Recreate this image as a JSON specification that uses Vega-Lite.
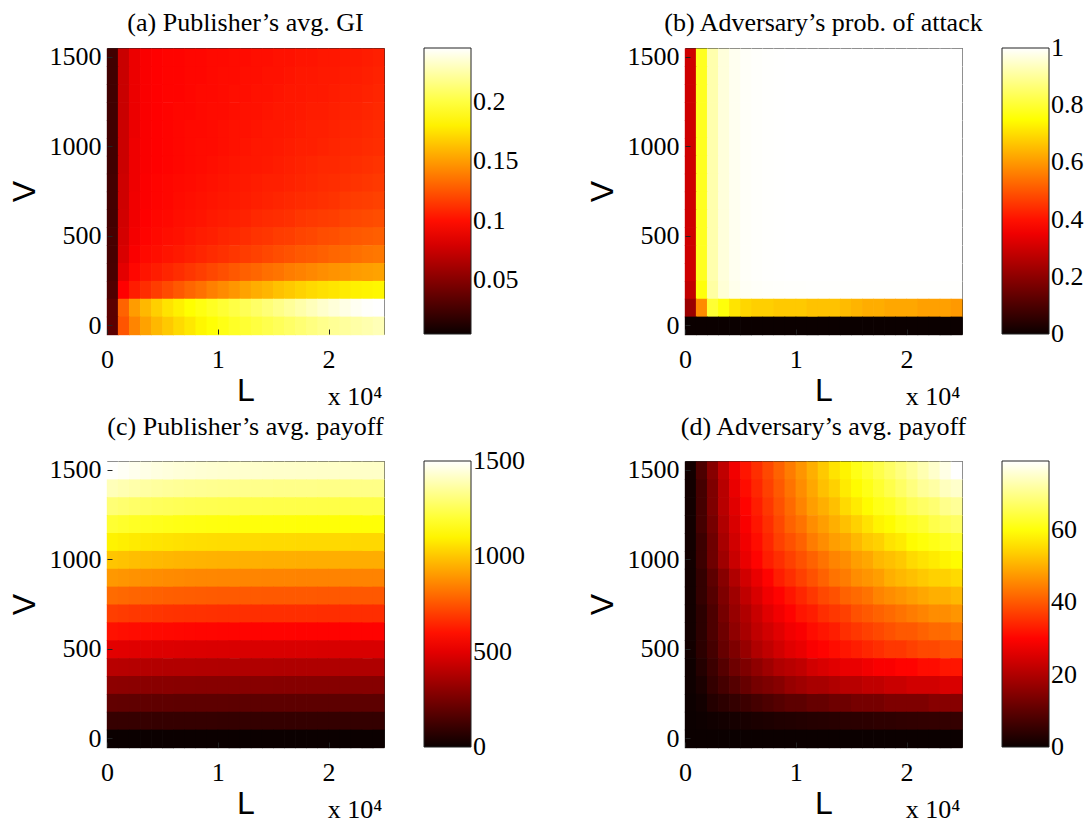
{
"$schema": "https://vega.github.io/schema/vega-lite/v6.json",
"background": "white",
"padding": {"left": 7, "top": 9, "right": 5, "bottom": 0},
"config": {
  "view": {"stroke": "#222222", "strokeWidth": 1},
  "font": "Liberation Serif",
  "axis": {"labelFont": "Liberation Serif", "labelFontSize": 26, "labelColor": "black", "titleFont": "Liberation Sans", "titleFontSize": 32, "titleFontWeight": "normal", "titleColor": "black", "domain": false, "grid": false, "ticks": true, "tickSize": -5, "tickColor": "#222222", "labelOverlap": false, "labelFlush": false},
  "axisY": {"titlePadding": 8, "labelPadding": 11},
  "axisX": {"titlePadding": 3, "labelPadding": 17},
  "title": {"font": "Liberation Serif", "fontSize": 26, "fontWeight": "normal", "color": "black", "baseline": "alphabetic", "offset": 17, "anchor": "middle", "frame": "group"},
  "legend": {"gradientLength": 286, "gradientThickness": 47, "gradientStrokeColor": "#222222", "gradientStrokeWidth": 1, "labelFont": "Liberation Serif", "labelFontSize": 26, "labelColor": "black", "labelOffset": 9, "offset": 40, "padding": 0, "labelOverlap": false, "direction": "vertical", "orient": "right"}
},
"datasets": {"g": [
{"L":500,"V":1500,"a":0.025,"b":0.3,"c":1497,"d":1},
{"L":1500,"V":1500,"a":0.075,"b":0.78,"c":1485,"d":8},
{"L":2500,"V":1500,"a":0.088,"b":0.92,"c":1473,"d":15},
{"L":3500,"V":1500,"a":0.093,"b":0.965,"c":1463,"d":22},
{"L":4500,"V":1500,"a":0.095,"b":0.985,"c":1455,"d":28},
{"L":5500,"V":1500,"a":0.096,"b":0.993,"c":1449,"d":32},
{"L":6500,"V":1500,"a":0.096,"b":0.996,"c":1443,"d":35},
{"L":7500,"V":1500,"a":0.097,"b":0.998,"c":1439,"d":38},
{"L":8500,"V":1500,"a":0.097,"b":0.999,"c":1436,"d":41},
{"L":9500,"V":1500,"a":0.098,"b":1,"c":1433,"d":44},
{"L":10500,"V":1500,"a":0.098,"b":1,"c":1430,"d":47},
{"L":11500,"V":1500,"a":0.099,"b":1,"c":1428,"d":50},
{"L":12500,"V":1500,"a":0.099,"b":1,"c":1427,"d":53},
{"L":13500,"V":1500,"a":0.1,"b":1,"c":1425,"d":56},
{"L":14500,"V":1500,"a":0.1,"b":1,"c":1424,"d":58},
{"L":15500,"V":1500,"a":0.101,"b":1,"c":1422,"d":61},
{"L":16500,"V":1500,"a":0.101,"b":1,"c":1422,"d":63},
{"L":17500,"V":1500,"a":0.102,"b":1,"c":1421,"d":65},
{"L":18500,"V":1500,"a":0.102,"b":1,"c":1421,"d":67},
{"L":19500,"V":1500,"a":0.103,"b":1,"c":1419,"d":69},
{"L":20500,"V":1500,"a":0.103,"b":1,"c":1419,"d":71},
{"L":21500,"V":1500,"a":0.104,"b":1,"c":1419,"d":73},
{"L":22500,"V":1500,"a":0.104,"b":1,"c":1418,"d":75},
{"L":23500,"V":1500,"a":0.105,"b":1,"c":1418,"d":77},
{"L":24500,"V":1500,"a":0.106,"b":1,"c":1418,"d":79},
{"L":500,"V":1400,"a":0.025,"b":0.3,"c":1397,"d":1},
{"L":1500,"V":1400,"a":0.075,"b":0.78,"c":1386,"d":7},
{"L":2500,"V":1400,"a":0.088,"b":0.92,"c":1375,"d":14},
{"L":3500,"V":1400,"a":0.093,"b":0.965,"c":1365,"d":21},
{"L":4500,"V":1400,"a":0.095,"b":0.985,"c":1358,"d":27},
{"L":5500,"V":1400,"a":0.096,"b":0.993,"c":1352,"d":31},
{"L":6500,"V":1400,"a":0.096,"b":0.996,"c":1347,"d":34},
{"L":7500,"V":1400,"a":0.097,"b":0.998,"c":1343,"d":37},
{"L":8500,"V":1400,"a":0.097,"b":0.999,"c":1340,"d":40},
{"L":9500,"V":1400,"a":0.098,"b":1,"c":1337,"d":43},
{"L":10500,"V":1400,"a":0.099,"b":1,"c":1334,"d":46},
{"L":11500,"V":1400,"a":0.099,"b":1,"c":1333,"d":49},
{"L":12500,"V":1400,"a":0.1,"b":1,"c":1331,"d":52},
{"L":13500,"V":1400,"a":0.1,"b":1,"c":1330,"d":54},
{"L":14500,"V":1400,"a":0.101,"b":1,"c":1329,"d":57},
{"L":15500,"V":1400,"a":0.101,"b":1,"c":1327,"d":59},
{"L":16500,"V":1400,"a":0.102,"b":1,"c":1327,"d":61},
{"L":17500,"V":1400,"a":0.103,"b":1,"c":1326,"d":63},
{"L":18500,"V":1400,"a":0.103,"b":1,"c":1326,"d":65},
{"L":19500,"V":1400,"a":0.104,"b":1,"c":1324,"d":67},
{"L":20500,"V":1400,"a":0.104,"b":1,"c":1324,"d":69},
{"L":21500,"V":1400,"a":0.105,"b":1,"c":1324,"d":71},
{"L":22500,"V":1400,"a":0.105,"b":1,"c":1323,"d":72},
{"L":23500,"V":1400,"a":0.106,"b":1,"c":1323,"d":74},
{"L":24500,"V":1400,"a":0.107,"b":1,"c":1323,"d":75},
{"L":500,"V":1300,"a":0.025,"b":0.3,"c":1297,"d":1},
{"L":1500,"V":1300,"a":0.075,"b":0.78,"c":1287,"d":7},
{"L":2500,"V":1300,"a":0.088,"b":0.92,"c":1277,"d":14},
{"L":3500,"V":1300,"a":0.093,"b":0.965,"c":1268,"d":21},
{"L":4500,"V":1300,"a":0.095,"b":0.985,"c":1261,"d":26},
{"L":5500,"V":1300,"a":0.096,"b":0.993,"c":1256,"d":30},
{"L":6500,"V":1300,"a":0.096,"b":0.996,"c":1251,"d":33},
{"L":7500,"V":1300,"a":0.097,"b":0.998,"c":1247,"d":36},
{"L":8500,"V":1300,"a":0.098,"b":0.999,"c":1244,"d":39},
{"L":9500,"V":1300,"a":0.098,"b":1,"c":1242,"d":42},
{"L":10500,"V":1300,"a":0.099,"b":1,"c":1239,"d":45},
{"L":11500,"V":1300,"a":0.1,"b":1,"c":1238,"d":48},
{"L":12500,"V":1300,"a":0.1,"b":1,"c":1236,"d":50},
{"L":13500,"V":1300,"a":0.101,"b":1,"c":1235,"d":52},
{"L":14500,"V":1300,"a":0.101,"b":1,"c":1234,"d":55},
{"L":15500,"V":1300,"a":0.102,"b":1,"c":1232,"d":57},
{"L":16500,"V":1300,"a":0.103,"b":1,"c":1232,"d":59},
{"L":17500,"V":1300,"a":0.103,"b":1,"c":1231,"d":61},
{"L":18500,"V":1300,"a":0.104,"b":1,"c":1231,"d":62},
{"L":19500,"V":1300,"a":0.104,"b":1,"c":1230,"d":64},
{"L":20500,"V":1300,"a":0.105,"b":1,"c":1230,"d":66},
{"L":21500,"V":1300,"a":0.106,"b":1,"c":1230,"d":67},
{"L":22500,"V":1300,"a":0.106,"b":1,"c":1229,"d":68},
{"L":23500,"V":1300,"a":0.107,"b":1,"c":1229,"d":70},
{"L":24500,"V":1300,"a":0.108,"b":1,"c":1229,"d":71},
{"L":500,"V":1200,"a":0.025,"b":0.3,"c":1198,"d":1},
{"L":1500,"V":1200,"a":0.075,"b":0.78,"c":1188,"d":7},
{"L":2500,"V":1200,"a":0.088,"b":0.92,"c":1178,"d":13},
{"L":3500,"V":1200,"a":0.093,"b":0.965,"c":1170,"d":20},
{"L":4500,"V":1200,"a":0.095,"b":0.985,"c":1164,"d":25},
{"L":5500,"V":1200,"a":0.096,"b":0.993,"c":1159,"d":29},
{"L":6500,"V":1200,"a":0.097,"b":0.996,"c":1154,"d":32},
{"L":7500,"V":1200,"a":0.097,"b":0.998,"c":1151,"d":35},
{"L":8500,"V":1200,"a":0.098,"b":0.999,"c":1148,"d":38},
{"L":9500,"V":1200,"a":0.099,"b":1,"c":1146,"d":41},
{"L":10500,"V":1200,"a":0.099,"b":1,"c":1144,"d":43},
{"L":11500,"V":1200,"a":0.1,"b":1,"c":1142,"d":46},
{"L":12500,"V":1200,"a":0.101,"b":1,"c":1141,"d":48},
{"L":13500,"V":1200,"a":0.101,"b":1,"c":1140,"d":50},
{"L":14500,"V":1200,"a":0.102,"b":1,"c":1139,"d":52},
{"L":15500,"V":1200,"a":0.103,"b":1,"c":1138,"d":54},
{"L":16500,"V":1200,"a":0.103,"b":1,"c":1138,"d":56},
{"L":17500,"V":1200,"a":0.104,"b":1,"c":1136,"d":58},
{"L":18500,"V":1200,"a":0.105,"b":1,"c":1136,"d":59},
{"L":19500,"V":1200,"a":0.105,"b":1,"c":1135,"d":61},
{"L":20500,"V":1200,"a":0.106,"b":1,"c":1135,"d":62},
{"L":21500,"V":1200,"a":0.107,"b":1,"c":1135,"d":63},
{"L":22500,"V":1200,"a":0.107,"b":1,"c":1134,"d":65},
{"L":23500,"V":1200,"a":0.108,"b":1,"c":1134,"d":66},
{"L":24500,"V":1200,"a":0.109,"b":1,"c":1134,"d":67},
{"L":500,"V":1100,"a":0.025,"b":0.3,"c":1098,"d":1},
{"L":1500,"V":1100,"a":0.076,"b":0.78,"c":1089,"d":6},
{"L":2500,"V":1100,"a":0.088,"b":0.92,"c":1080,"d":12},
{"L":3500,"V":1100,"a":0.093,"b":0.965,"c":1073,"d":19},
{"L":4500,"V":1100,"a":0.095,"b":0.985,"c":1067,"d":24},
{"L":5500,"V":1100,"a":0.096,"b":0.993,"c":1063,"d":28},
{"L":6500,"V":1100,"a":0.097,"b":0.996,"c":1058,"d":31},
{"L":7500,"V":1100,"a":0.098,"b":0.998,"c":1055,"d":34},
{"L":8500,"V":1100,"a":0.098,"b":0.999,"c":1053,"d":37},
{"L":9500,"V":1100,"a":0.099,"b":1,"c":1051,"d":39},
{"L":10500,"V":1100,"a":0.1,"b":1,"c":1048,"d":41},
{"L":11500,"V":1100,"a":0.101,"b":1,"c":1047,"d":44},
{"L":12500,"V":1100,"a":0.101,"b":1,"c":1046,"d":46},
{"L":13500,"V":1100,"a":0.102,"b":1,"c":1045,"d":48},
{"L":14500,"V":1100,"a":0.103,"b":1,"c":1044,"d":49},
{"L":15500,"V":1100,"a":0.103,"b":1,"c":1043,"d":51},
{"L":16500,"V":1100,"a":0.104,"b":1,"c":1043,"d":53},
{"L":17500,"V":1100,"a":0.105,"b":1,"c":1042,"d":54},
{"L":18500,"V":1100,"a":0.106,"b":1,"c":1042,"d":56},
{"L":19500,"V":1100,"a":0.106,"b":1,"c":1041,"d":57},
{"L":20500,"V":1100,"a":0.107,"b":1,"c":1041,"d":59},
{"L":21500,"V":1100,"a":0.108,"b":1,"c":1041,"d":60},
{"L":22500,"V":1100,"a":0.108,"b":1,"c":1040,"d":61},
{"L":23500,"V":1100,"a":0.109,"b":1,"c":1040,"d":62},
{"L":24500,"V":1100,"a":0.11,"b":1,"c":1040,"d":63},
{"L":500,"V":1000,"a":0.025,"b":0.3,"c":998,"d":1},
{"L":1500,"V":1000,"a":0.076,"b":0.78,"c":990,"d":6},
{"L":2500,"V":1000,"a":0.089,"b":0.92,"c":982,"d":12},
{"L":3500,"V":1000,"a":0.093,"b":0.965,"c":975,"d":18},
{"L":4500,"V":1000,"a":0.095,"b":0.985,"c":970,"d":23},
{"L":5500,"V":1000,"a":0.096,"b":0.993,"c":966,"d":27},
{"L":6500,"V":1000,"a":0.097,"b":0.996,"c":962,"d":30},
{"L":7500,"V":1000,"a":0.098,"b":0.998,"c":959,"d":33},
{"L":8500,"V":1000,"a":0.099,"b":0.999,"c":957,"d":35},
{"L":9500,"V":1000,"a":0.099,"b":1,"c":955,"d":37},
{"L":10500,"V":1000,"a":0.1,"b":1,"c":953,"d":39},
{"L":11500,"V":1000,"a":0.101,"b":1,"c":952,"d":41},
{"L":12500,"V":1000,"a":0.102,"b":1,"c":951,"d":43},
{"L":13500,"V":1000,"a":0.103,"b":1,"c":950,"d":45},
{"L":14500,"V":1000,"a":0.103,"b":1,"c":949,"d":46},
{"L":15500,"V":1000,"a":0.104,"b":1,"c":948,"d":48},
{"L":16500,"V":1000,"a":0.105,"b":1,"c":948,"d":49},
{"L":17500,"V":1000,"a":0.106,"b":1,"c":947,"d":51},
{"L":18500,"V":1000,"a":0.106,"b":1,"c":947,"d":52},
{"L":19500,"V":1000,"a":0.107,"b":1,"c":946,"d":53},
{"L":20500,"V":1000,"a":0.108,"b":1,"c":946,"d":55},
{"L":21500,"V":1000,"a":0.109,"b":1,"c":946,"d":56},
{"L":22500,"V":1000,"a":0.109,"b":1,"c":945,"d":57},
{"L":23500,"V":1000,"a":0.11,"b":1,"c":945,"d":58},
{"L":24500,"V":1000,"a":0.111,"b":1,"c":945,"d":59},
{"L":500,"V":900,"a":0.025,"b":0.3,"c":898,"d":1},
{"L":1500,"V":900,"a":0.076,"b":0.78,"c":891,"d":5},
{"L":2500,"V":900,"a":0.089,"b":0.92,"c":884,"d":10},
{"L":3500,"V":900,"a":0.093,"b":0.965,"c":878,"d":15},
{"L":4500,"V":900,"a":0.095,"b":0.985,"c":873,"d":20},
{"L":5500,"V":900,"a":0.096,"b":0.993,"c":869,"d":24},
{"L":6500,"V":900,"a":0.097,"b":0.996,"c":866,"d":27},
{"L":7500,"V":900,"a":0.098,"b":0.998,"c":863,"d":30},
{"L":8500,"V":900,"a":0.099,"b":0.999,"c":861,"d":33},
{"L":9500,"V":900,"a":0.1,"b":1,"c":860,"d":35},
{"L":10500,"V":900,"a":0.101,"b":1,"c":858,"d":37},
{"L":11500,"V":900,"a":0.102,"b":1,"c":857,"d":39},
{"L":12500,"V":900,"a":0.103,"b":1,"c":856,"d":41},
{"L":13500,"V":900,"a":0.103,"b":1,"c":855,"d":43},
{"L":14500,"V":900,"a":0.104,"b":1,"c":854,"d":44},
{"L":15500,"V":900,"a":0.105,"b":1,"c":853,"d":46},
{"L":16500,"V":900,"a":0.106,"b":1,"c":853,"d":47},
{"L":17500,"V":900,"a":0.107,"b":1,"c":852,"d":48},
{"L":18500,"V":900,"a":0.108,"b":1,"c":852,"d":50},
{"L":19500,"V":900,"a":0.109,"b":1,"c":851,"d":51},
{"L":20500,"V":900,"a":0.109,"b":1,"c":851,"d":52},
{"L":21500,"V":900,"a":0.11,"b":1,"c":851,"d":53},
{"L":22500,"V":900,"a":0.111,"b":1,"c":851,"d":54},
{"L":23500,"V":900,"a":0.112,"b":1,"c":851,"d":54},
{"L":24500,"V":900,"a":0.113,"b":1,"c":851,"d":55},
{"L":500,"V":800,"a":0.026,"b":0.3,"c":798,"d":1},
{"L":1500,"V":800,"a":0.077,"b":0.78,"c":792,"d":5},
{"L":2500,"V":800,"a":0.089,"b":0.92,"c":786,"d":9},
{"L":3500,"V":800,"a":0.094,"b":0.965,"c":780,"d":14},
{"L":4500,"V":800,"a":0.096,"b":0.985,"c":776,"d":18},
{"L":5500,"V":800,"a":0.097,"b":0.993,"c":773,"d":22},
{"L":6500,"V":800,"a":0.098,"b":0.996,"c":770,"d":25},
{"L":7500,"V":800,"a":0.099,"b":0.998,"c":767,"d":28},
{"L":8500,"V":800,"a":0.1,"b":0.999,"c":766,"d":30},
{"L":9500,"V":800,"a":0.101,"b":1,"c":764,"d":32},
{"L":10500,"V":800,"a":0.102,"b":1,"c":762,"d":34},
{"L":11500,"V":800,"a":0.103,"b":1,"c":762,"d":36},
{"L":12500,"V":800,"a":0.104,"b":1,"c":761,"d":38},
{"L":13500,"V":800,"a":0.105,"b":1,"c":760,"d":39},
{"L":14500,"V":800,"a":0.106,"b":1,"c":759,"d":41},
{"L":15500,"V":800,"a":0.106,"b":1,"c":758,"d":42},
{"L":16500,"V":800,"a":0.107,"b":1,"c":758,"d":43},
{"L":17500,"V":800,"a":0.108,"b":1,"c":758,"d":45},
{"L":18500,"V":800,"a":0.109,"b":1,"c":758,"d":46},
{"L":19500,"V":800,"a":0.11,"b":1,"c":757,"d":47},
{"L":20500,"V":800,"a":0.111,"b":1,"c":757,"d":48},
{"L":21500,"V":800,"a":0.112,"b":1,"c":757,"d":49},
{"L":22500,"V":800,"a":0.113,"b":1,"c":756,"d":50},
{"L":23500,"V":800,"a":0.114,"b":1,"c":756,"d":50},
{"L":24500,"V":800,"a":0.115,"b":1,"c":756,"d":51},
{"L":500,"V":700,"a":0.026,"b":0.3,"c":699,"d":1},
{"L":1500,"V":700,"a":0.077,"b":0.78,"c":693,"d":4},
{"L":2500,"V":700,"a":0.09,"b":0.92,"c":687,"d":8},
{"L":3500,"V":700,"a":0.094,"b":0.965,"c":683,"d":13},
{"L":4500,"V":700,"a":0.096,"b":0.985,"c":679,"d":17},
{"L":5500,"V":700,"a":0.097,"b":0.993,"c":676,"d":20},
{"L":6500,"V":700,"a":0.099,"b":0.996,"c":673,"d":23},
{"L":7500,"V":700,"a":0.1,"b":0.998,"c":671,"d":26},
{"L":8500,"V":700,"a":0.101,"b":0.999,"c":670,"d":28},
{"L":9500,"V":700,"a":0.102,"b":1,"c":669,"d":30},
{"L":10500,"V":700,"a":0.103,"b":1,"c":667,"d":32},
{"L":11500,"V":700,"a":0.104,"b":1,"c":666,"d":33},
{"L":12500,"V":700,"a":0.105,"b":1,"c":666,"d":35},
{"L":13500,"V":700,"a":0.106,"b":1,"c":665,"d":36},
{"L":14500,"V":700,"a":0.107,"b":1,"c":664,"d":37},
{"L":15500,"V":700,"a":0.108,"b":1,"c":664,"d":39},
{"L":16500,"V":700,"a":0.109,"b":1,"c":664,"d":40},
{"L":17500,"V":700,"a":0.11,"b":1,"c":663,"d":41},
{"L":18500,"V":700,"a":0.111,"b":1,"c":663,"d":42},
{"L":19500,"V":700,"a":0.112,"b":1,"c":662,"d":43},
{"L":20500,"V":700,"a":0.113,"b":1,"c":662,"d":44},
{"L":21500,"V":700,"a":0.115,"b":1,"c":662,"d":45},
{"L":22500,"V":700,"a":0.116,"b":1,"c":662,"d":46},
{"L":23500,"V":700,"a":0.117,"b":1,"c":662,"d":46},
{"L":24500,"V":700,"a":0.118,"b":1,"c":662,"d":47},
{"L":500,"V":600,"a":0.026,"b":0.3,"c":599,"d":1},
{"L":1500,"V":600,"a":0.078,"b":0.78,"c":594,"d":4},
{"L":2500,"V":600,"a":0.09,"b":0.92,"c":589,"d":8},
{"L":3500,"V":600,"a":0.095,"b":0.965,"c":585,"d":12},
{"L":4500,"V":600,"a":0.097,"b":0.985,"c":582,"d":16},
{"L":5500,"V":600,"a":0.098,"b":0.993,"c":580,"d":19},
{"L":6500,"V":600,"a":0.1,"b":0.996,"c":577,"d":22},
{"L":7500,"V":600,"a":0.101,"b":0.998,"c":575,"d":24},
{"L":8500,"V":600,"a":0.102,"b":0.999,"c":574,"d":26},
{"L":9500,"V":600,"a":0.104,"b":1,"c":573,"d":28},
{"L":10500,"V":600,"a":0.105,"b":1,"c":572,"d":29},
{"L":11500,"V":600,"a":0.106,"b":1,"c":571,"d":31},
{"L":12500,"V":600,"a":0.107,"b":1,"c":571,"d":32},
{"L":13500,"V":600,"a":0.109,"b":1,"c":570,"d":33},
{"L":14500,"V":600,"a":0.11,"b":1,"c":569,"d":35},
{"L":15500,"V":600,"a":0.111,"b":1,"c":569,"d":36},
{"L":16500,"V":600,"a":0.112,"b":1,"c":569,"d":37},
{"L":17500,"V":600,"a":0.114,"b":1,"c":568,"d":38},
{"L":18500,"V":600,"a":0.115,"b":1,"c":568,"d":39},
{"L":19500,"V":600,"a":0.116,"b":1,"c":568,"d":40},
{"L":20500,"V":600,"a":0.117,"b":1,"c":568,"d":40},
{"L":21500,"V":600,"a":0.119,"b":1,"c":568,"d":41},
{"L":22500,"V":600,"a":0.12,"b":1,"c":567,"d":42},
{"L":23500,"V":600,"a":0.121,"b":1,"c":567,"d":42},
{"L":24500,"V":600,"a":0.122,"b":1,"c":567,"d":43},
{"L":500,"V":500,"a":0.027,"b":0.3,"c":499,"d":1},
{"L":1500,"V":500,"a":0.079,"b":0.78,"c":495,"d":4},
{"L":2500,"V":500,"a":0.091,"b":0.92,"c":491,"d":7},
{"L":3500,"V":500,"a":0.096,"b":0.965,"c":488,"d":11},
{"L":4500,"V":500,"a":0.098,"b":0.985,"c":485,"d":14},
{"L":5500,"V":500,"a":0.1,"b":0.993,"c":483,"d":17},
{"L":6500,"V":500,"a":0.101,"b":0.996,"c":481,"d":20},
{"L":7500,"V":500,"a":0.103,"b":0.998,"c":480,"d":22},
{"L":8500,"V":500,"a":0.105,"b":0.999,"c":479,"d":24},
{"L":9500,"V":500,"a":0.106,"b":1,"c":478,"d":26},
{"L":10500,"V":500,"a":0.108,"b":1,"c":477,"d":27},
{"L":11500,"V":500,"a":0.109,"b":1,"c":476,"d":29},
{"L":12500,"V":500,"a":0.111,"b":1,"c":476,"d":30},
{"L":13500,"V":500,"a":0.113,"b":1,"c":475,"d":31},
{"L":14500,"V":500,"a":0.114,"b":1,"c":475,"d":32},
{"L":15500,"V":500,"a":0.116,"b":1,"c":474,"d":33},
{"L":16500,"V":500,"a":0.117,"b":1,"c":474,"d":34},
{"L":17500,"V":500,"a":0.119,"b":1,"c":474,"d":35},
{"L":18500,"V":500,"a":0.12,"b":1,"c":474,"d":36},
{"L":19500,"V":500,"a":0.122,"b":1,"c":473,"d":36},
{"L":20500,"V":500,"a":0.123,"b":1,"c":473,"d":37},
{"L":21500,"V":500,"a":0.125,"b":1,"c":473,"d":38},
{"L":22500,"V":500,"a":0.126,"b":1,"c":473,"d":38},
{"L":23500,"V":500,"a":0.127,"b":1,"c":473,"d":39},
{"L":24500,"V":500,"a":0.128,"b":1,"c":473,"d":39},
{"L":500,"V":400,"a":0.027,"b":0.3,"c":399,"d":0.5},
{"L":1500,"V":400,"a":0.081,"b":0.78,"c":396,"d":3},
{"L":2500,"V":400,"a":0.093,"b":0.92,"c":393,"d":6},
{"L":3500,"V":400,"a":0.098,"b":0.965,"c":390,"d":9},
{"L":4500,"V":400,"a":0.1,"b":0.985,"c":388,"d":12},
{"L":5500,"V":400,"a":0.102,"b":0.993,"c":386,"d":14},
{"L":6500,"V":400,"a":0.104,"b":0.996,"c":385,"d":16},
{"L":7500,"V":400,"a":0.106,"b":0.998,"c":384,"d":18},
{"L":8500,"V":400,"a":0.108,"b":0.999,"c":383,"d":20},
{"L":9500,"V":400,"a":0.11,"b":1,"c":382,"d":21},
{"L":10500,"V":400,"a":0.112,"b":1,"c":381,"d":22},
{"L":11500,"V":400,"a":0.114,"b":1,"c":381,"d":24},
{"L":12500,"V":400,"a":0.116,"b":1,"c":380,"d":25},
{"L":13500,"V":400,"a":0.118,"b":1,"c":380,"d":26},
{"L":14500,"V":400,"a":0.12,"b":1,"c":380,"d":27},
{"L":15500,"V":400,"a":0.122,"b":1,"c":379,"d":27},
{"L":16500,"V":400,"a":0.124,"b":1,"c":379,"d":28},
{"L":17500,"V":400,"a":0.126,"b":1,"c":379,"d":29},
{"L":18500,"V":400,"a":0.127,"b":1,"c":379,"d":29},
{"L":19500,"V":400,"a":0.129,"b":1,"c":378,"d":30},
{"L":20500,"V":400,"a":0.131,"b":1,"c":378,"d":30},
{"L":21500,"V":400,"a":0.132,"b":1,"c":378,"d":31},
{"L":22500,"V":400,"a":0.134,"b":1,"c":378,"d":31},
{"L":23500,"V":400,"a":0.136,"b":1,"c":378,"d":32},
{"L":24500,"V":400,"a":0.137,"b":1,"c":378,"d":32},
{"L":500,"V":300,"a":0.028,"b":0.3,"c":299,"d":0.5},
{"L":1500,"V":300,"a":0.085,"b":0.78,"c":297,"d":2},
{"L":2500,"V":300,"a":0.097,"b":0.92,"c":295,"d":5},
{"L":3500,"V":300,"a":0.102,"b":0.965,"c":293,"d":7},
{"L":4500,"V":300,"a":0.105,"b":0.985,"c":291,"d":9},
{"L":5500,"V":300,"a":0.108,"b":0.993,"c":290,"d":11},
{"L":6500,"V":300,"a":0.111,"b":0.996,"c":289,"d":13},
{"L":7500,"V":300,"a":0.114,"b":0.998,"c":288,"d":14},
{"L":8500,"V":300,"a":0.117,"b":0.999,"c":287,"d":15},
{"L":9500,"V":300,"a":0.12,"b":1,"c":287,"d":17},
{"L":10500,"V":300,"a":0.123,"b":1,"c":286,"d":18},
{"L":11500,"V":300,"a":0.126,"b":1,"c":286,"d":19},
{"L":12500,"V":300,"a":0.129,"b":1,"c":285,"d":19},
{"L":13500,"V":300,"a":0.131,"b":1,"c":285,"d":20},
{"L":14500,"V":300,"a":0.134,"b":1,"c":285,"d":21},
{"L":15500,"V":300,"a":0.136,"b":1,"c":284,"d":21},
{"L":16500,"V":300,"a":0.139,"b":1,"c":284,"d":22},
{"L":17500,"V":300,"a":0.141,"b":1,"c":284,"d":22},
{"L":18500,"V":300,"a":0.143,"b":1,"c":284,"d":23},
{"L":19500,"V":300,"a":0.145,"b":1,"c":284,"d":23},
{"L":20500,"V":300,"a":0.147,"b":1,"c":284,"d":24},
{"L":21500,"V":300,"a":0.148,"b":1,"c":284,"d":24},
{"L":22500,"V":300,"a":0.15,"b":1,"c":284,"d":24},
{"L":23500,"V":300,"a":0.151,"b":1,"c":284,"d":25},
{"L":24500,"V":300,"a":0.152,"b":1,"c":284,"d":25},
{"L":500,"V":200,"a":0.03,"b":0.28,"c":200,"d":0.3},
{"L":1500,"V":200,"a":0.095,"b":0.76,"c":198,"d":1},
{"L":2500,"V":200,"a":0.105,"b":0.91,"c":196,"d":3},
{"L":3500,"V":200,"a":0.111,"b":0.96,"c":195,"d":4},
{"L":4500,"V":200,"a":0.116,"b":0.98,"c":194,"d":5},
{"L":5500,"V":200,"a":0.121,"b":0.99,"c":193,"d":6},
{"L":6500,"V":200,"a":0.126,"b":0.993,"c":192,"d":7},
{"L":7500,"V":200,"a":0.131,"b":0.995,"c":192,"d":8},
{"L":8500,"V":200,"a":0.135,"b":0.996,"c":191,"d":9},
{"L":9500,"V":200,"a":0.14,"b":0.997,"c":191,"d":10},
{"L":10500,"V":200,"a":0.144,"b":0.997,"c":191,"d":10},
{"L":11500,"V":200,"a":0.148,"b":0.998,"c":190,"d":11},
{"L":12500,"V":200,"a":0.152,"b":0.998,"c":190,"d":11},
{"L":13500,"V":200,"a":0.156,"b":0.998,"c":190,"d":12},
{"L":14500,"V":200,"a":0.159,"b":0.998,"c":190,"d":12},
{"L":15500,"V":200,"a":0.163,"b":0.998,"c":190,"d":13},
{"L":16500,"V":200,"a":0.166,"b":0.998,"c":190,"d":13},
{"L":17500,"V":200,"a":0.169,"b":0.998,"c":189,"d":13},
{"L":18500,"V":200,"a":0.172,"b":0.998,"c":189,"d":14},
{"L":19500,"V":200,"a":0.174,"b":0.998,"c":189,"d":14},
{"L":20500,"V":200,"a":0.176,"b":0.998,"c":189,"d":14},
{"L":21500,"V":200,"a":0.178,"b":0.998,"c":189,"d":14},
{"L":22500,"V":200,"a":0.18,"b":0.998,"c":189,"d":15},
{"L":23500,"V":200,"a":0.181,"b":0.998,"c":189,"d":15},
{"L":24500,"V":200,"a":0.182,"b":0.998,"c":189,"d":15},
{"L":500,"V":100,"a":0.035,"b":0.22,"c":100,"d":0.1},
{"L":1500,"V":100,"a":0.13,"b":0.58,"c":99,"d":0.4},
{"L":2500,"V":100,"a":0.15,"b":0.8,"c":98,"d":0.7},
{"L":3500,"V":100,"a":0.16,"b":0.76,"c":98,"d":1},
{"L":4500,"V":100,"a":0.168,"b":0.71,"c":97,"d":1.3},
{"L":5500,"V":100,"a":0.175,"b":0.69,"c":97,"d":1.6},
{"L":6500,"V":100,"a":0.18,"b":0.68,"c":96,"d":1.9},
{"L":7500,"V":100,"a":0.185,"b":0.68,"c":96,"d":2.2},
{"L":8500,"V":100,"a":0.189,"b":0.67,"c":96,"d":2.5},
{"L":9500,"V":100,"a":0.193,"b":0.67,"c":96,"d":2.7},
{"L":10500,"V":100,"a":0.197,"b":0.67,"c":95,"d":2.9},
{"L":11500,"V":100,"a":0.201,"b":0.66,"c":95,"d":3.1},
{"L":12500,"V":100,"a":0.205,"b":0.66,"c":95,"d":3.3},
{"L":13500,"V":100,"a":0.209,"b":0.66,"c":95,"d":3.5},
{"L":14500,"V":100,"a":0.213,"b":0.65,"c":95,"d":3.7},
{"L":15500,"V":100,"a":0.217,"b":0.64,"c":95,"d":3.9},
{"L":16500,"V":100,"a":0.221,"b":0.63,"c":95,"d":4},
{"L":17500,"V":100,"a":0.225,"b":0.63,"c":95,"d":4.2},
{"L":18500,"V":100,"a":0.229,"b":0.62,"c":95,"d":4.3},
{"L":19500,"V":100,"a":0.233,"b":0.62,"c":95,"d":4.5},
{"L":20500,"V":100,"a":0.236,"b":0.62,"c":95,"d":4.6},
{"L":21500,"V":100,"a":0.239,"b":0.61,"c":95,"d":4.7},
{"L":22500,"V":100,"a":0.242,"b":0.61,"c":95,"d":4.8},
{"L":23500,"V":100,"a":0.244,"b":0.61,"c":95,"d":4.9},
{"L":24500,"V":100,"a":0.245,"b":0.6,"c":95,"d":5},
{"L":500,"V":0,"a":0.035,"b":0,"c":0,"d":0},
{"L":1500,"V":0,"a":0.125,"b":0,"c":0,"d":0},
{"L":2500,"V":0,"a":0.142,"b":0,"c":0,"d":0},
{"L":3500,"V":0,"a":0.152,"b":0,"c":0,"d":0},
{"L":4500,"V":0,"a":0.16,"b":0,"c":0,"d":0},
{"L":5500,"V":0,"a":0.166,"b":0,"c":0,"d":0},
{"L":6500,"V":0,"a":0.172,"b":0,"c":0,"d":0},
{"L":7500,"V":0,"a":0.177,"b":0,"c":0,"d":0},
{"L":8500,"V":0,"a":0.182,"b":0,"c":0,"d":0},
{"L":9500,"V":0,"a":0.186,"b":0,"c":0,"d":0},
{"L":10500,"V":0,"a":0.19,"b":0,"c":0,"d":0},
{"L":11500,"V":0,"a":0.194,"b":0,"c":0,"d":0},
{"L":12500,"V":0,"a":0.197,"b":0,"c":0,"d":0},
{"L":13500,"V":0,"a":0.2,"b":0,"c":0,"d":0},
{"L":14500,"V":0,"a":0.203,"b":0,"c":0,"d":0},
{"L":15500,"V":0,"a":0.206,"b":0,"c":0,"d":0},
{"L":16500,"V":0,"a":0.209,"b":0,"c":0,"d":0},
{"L":17500,"V":0,"a":0.212,"b":0,"c":0,"d":0},
{"L":18500,"V":0,"a":0.215,"b":0,"c":0,"d":0},
{"L":19500,"V":0,"a":0.218,"b":0,"c":0,"d":0},
{"L":20500,"V":0,"a":0.22,"b":0,"c":0,"d":0},
{"L":21500,"V":0,"a":0.222,"b":0,"c":0,"d":0},
{"L":22500,"V":0,"a":0.224,"b":0,"c":0,"d":0},
{"L":23500,"V":0,"a":0.226,"b":0,"c":0,"d":0},
{"L":24500,"V":0,"a":0.228,"b":0,"c":0,"d":0}
]},
"spacing": 2,
"resolve": {"scale": {"color": "independent", "x": "independent", "y": "independent"}},
"vconcat": [
 {"hconcat": [
  {"title": {"text": "(a) Publisher’s avg. GI", "offset": 8}, "width": 277, "height": 286, "data": {"name": "g"},
   "layer": [
    {"mark": {"type": "rect", "binSpacing": 0, "x2Offset": -0.7, "y2Offset": 0.7}, "encoding": {
      "x": {"field": "L", "type": "quantitative", "bin": {"step": 1000, "extent": [0, 25000], "nice": false}, "scale": {"domain": [0, 25000], "nice": false, "zero": false}, "axis": {"values": [0, 10000, 20000], "labelExpr": "datum.value / 10000", "title": "L"}},
      "y": {"field": "V", "type": "quantitative", "bin": {"step": 100, "extent": [-50, 1550], "nice": false}, "scale": {"domain": [-50, 1550], "nice": false, "zero": false}, "axis": {"values": [0, 500, 1000, 1500], "format": "d", "title": "V"}},
      "color": {"field": "a", "type": "quantitative", "scale": {"domain": [0.005, 0.095, 0.185, 0.245], "range": ["#0b0000", "#ff0000", "#ffff00", "#ffffff"], "interpolate": "rgb"}, "legend": {"title": null, "values": [0.05, 0.1, 0.15, 0.2], "format": "~g", "encode": {"labels": {"update": {"baseline": {"value": "middle"}}}}}}
    }},
    {"data": {"values": [{"t": "x 10⁴"}]}, "mark": {"type": "text", "align": "right", "baseline": "middle", "font": "Liberation Serif", "fontSize": 26, "color": "black"}, "encoding": {"text": {"field": "t"}, "x": {"datum": 24850, "type": "quantitative"}, "y": {"datum": -400, "type": "quantitative"}}}
   ]},
  {"title": {"text": "(b) Adversary’s prob. of attack", "offset": 8}, "width": 277, "height": 286, "data": {"name": "g"},
   "layer": [
    {"mark": {"type": "rect", "binSpacing": 0, "x2Offset": -0.7, "y2Offset": 0.7}, "encoding": {
      "x": {"field": "L", "type": "quantitative", "bin": {"step": 1000, "extent": [0, 25000], "nice": false}, "scale": {"domain": [0, 25000], "nice": false, "zero": false}, "axis": {"values": [0, 10000, 20000], "labelExpr": "datum.value / 10000", "title": "L"}},
      "y": {"field": "V", "type": "quantitative", "bin": {"step": 100, "extent": [-50, 1550], "nice": false}, "scale": {"domain": [-50, 1550], "nice": false, "zero": false}, "axis": {"values": [0, 500, 1000, 1500], "format": "d", "title": "V"}},
      "color": {"field": "b", "type": "quantitative", "scale": {"domain": [0, 0.375, 0.75, 1], "range": ["#0b0000", "#ff0000", "#ffff00", "#ffffff"], "interpolate": "rgb"}, "legend": {"title": null, "values": [0, 0.2, 0.4, 0.6, 0.8, 1], "format": "~g", "encode": {"labels": {"update": {"baseline": {"value": "middle"}}}}}}
    }},
    {"data": {"values": [{"t": "x 10⁴"}]}, "mark": {"type": "text", "align": "right", "baseline": "middle", "font": "Liberation Serif", "fontSize": 26, "color": "black"}, "encoding": {"text": {"field": "t"}, "x": {"datum": 24850, "type": "quantitative"}, "y": {"datum": -400, "type": "quantitative"}}}
   ]}
 ], "spacing": 65, "resolve": {"scale": {"color": "independent", "x": "independent", "y": "independent"}}},
 {"hconcat": [
  {"title": "(c) Publisher’s avg. payoff", "width": 277, "height": 286, "data": {"name": "g"},
   "layer": [
    {"mark": {"type": "rect", "binSpacing": 0, "x2Offset": -0.7, "y2Offset": 0.7}, "encoding": {
      "x": {"field": "L", "type": "quantitative", "bin": {"step": 1000, "extent": [0, 25000], "nice": false}, "scale": {"domain": [0, 25000], "nice": false, "zero": false}, "axis": {"values": [0, 10000, 20000], "labelExpr": "datum.value / 10000", "title": "L"}},
      "y": {"field": "V", "type": "quantitative", "bin": {"step": 100, "extent": [-50, 1550], "nice": false}, "scale": {"domain": [-50, 1550], "nice": false, "zero": false}, "axis": {"values": [0, 500, 1000, 1500], "format": "d", "title": "V"}},
      "color": {"field": "c", "type": "quantitative", "scale": {"domain": [0, 562.5, 1125, 1500], "range": ["#0b0000", "#ff0000", "#ffff00", "#ffffff"], "interpolate": "rgb"}, "legend": {"title": null, "values": [0, 500, 1000, 1500], "format": "d", "encode": {"labels": {"update": {"baseline": {"value": "middle"}}}}}}
    }},
    {"data": {"values": [{"t": "x 10⁴"}]}, "mark": {"type": "text", "align": "right", "baseline": "middle", "font": "Liberation Serif", "fontSize": 26, "color": "black"}, "encoding": {"text": {"field": "t"}, "x": {"datum": 24850, "type": "quantitative"}, "y": {"datum": -400, "type": "quantitative"}}}
   ]},
  {"title": "(d) Adversary’s avg. payoff", "width": 277, "height": 286, "data": {"name": "g"},
   "layer": [
    {"mark": {"type": "rect", "binSpacing": 0, "x2Offset": -0.7, "y2Offset": 0.7}, "encoding": {
      "x": {"field": "L", "type": "quantitative", "bin": {"step": 1000, "extent": [0, 25000], "nice": false}, "scale": {"domain": [0, 25000], "nice": false, "zero": false}, "axis": {"values": [0, 10000, 20000], "labelExpr": "datum.value / 10000", "title": "L"}},
      "y": {"field": "V", "type": "quantitative", "bin": {"step": 100, "extent": [-50, 1550], "nice": false}, "scale": {"domain": [-50, 1550], "nice": false, "zero": false}, "axis": {"values": [0, 500, 1000, 1500], "format": "d", "title": "V"}},
      "color": {"field": "d", "type": "quantitative", "scale": {"domain": [0, 29.6, 59.3, 79], "range": ["#0b0000", "#ff0000", "#ffff00", "#ffffff"], "interpolate": "rgb"}, "legend": {"title": null, "values": [0, 20, 40, 60], "format": "d", "encode": {"labels": {"update": {"baseline": {"value": "middle"}}}}}}
    }},
    {"data": {"values": [{"t": "x 10⁴"}]}, "mark": {"type": "text", "align": "right", "baseline": "middle", "font": "Liberation Serif", "fontSize": 26, "color": "black"}, "encoding": {"text": {"field": "t"}, "x": {"datum": 24850, "type": "quantitative"}, "y": {"datum": -400, "type": "quantitative"}}}
   ]}
 ], "spacing": 59, "resolve": {"scale": {"color": "independent", "x": "independent", "y": "independent"}}}
]
}
